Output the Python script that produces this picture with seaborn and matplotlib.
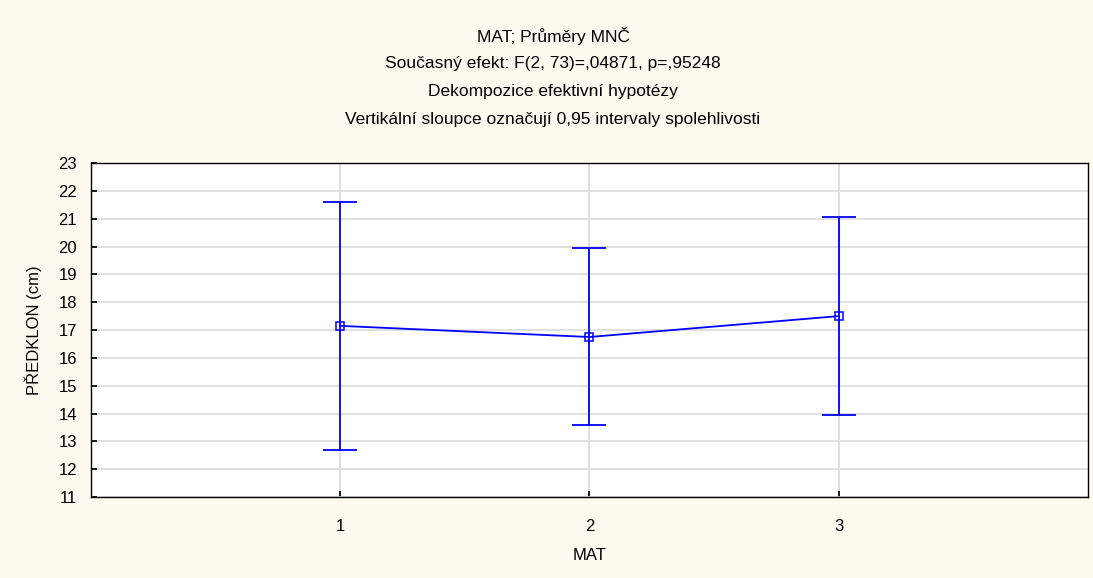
import pandas as pd
import seaborn as sns
import matplotlib.pyplot as plt

mat = [1, 2, 3]
mean_vals = [17.15, 16.75, 17.5]
ci_low = [12.7, 13.6, 13.95]
ci_high = [21.6, 19.93, 21.07]

df = pd.DataFrame({"MAT": mat, "mean": mean_vals, "low": ci_low, "high": ci_high})

sns.set_theme(style="whitegrid")
plt.rcParams["font.family"] = ["Liberation Sans", "DejaVu Sans"]
plt.rcParams["text.color"] = "black"
plt.rcParams["axes.labelcolor"] = "black"

fig = plt.figure(figsize=(10.93, 5.78), dpi=100, facecolor="#FFFAF0")
ax = fig.add_axes([0.0833, 0.140, 0.912, 0.578])
ax.set_facecolor("white")

blue = "#0000FF"
ax.errorbar(df["MAT"], df["mean"],
            yerr=[df["mean"] - df["low"], df["high"] - df["mean"]],
            fmt="none", ecolor=blue, elinewidth=1.3, capsize=12, capthick=1.3, zorder=3)
sns.lineplot(data=df, x="MAT", y="mean", ax=ax, color=blue, linewidth=1.3,
             marker="s", markersize=6, markerfacecolor="none", markeredgecolor=blue,
             markeredgewidth=1.1, zorder=4)

ax.set_xlim(0, 4)
ax.set_ylim(11, 23)
ax.set_xticks(mat)
ax.set_yticks(range(11, 24))
ax.grid(True, color="#DDDDDD", linewidth=1.3)
for s in ax.spines.values():
    s.set_color("black")
    s.set_linewidth(1.0)
ax.tick_params(axis="y", direction="in", length=4, left=True, labelsize=12, colors="black", pad=10)
ax.tick_params(axis="x", direction="in", length=4, bottom=True, labelsize=12, colors="black", pad=16)

ax.set_xlabel("MAT", fontsize=12, labelpad=10)
ax.set_ylabel("PŘEDKLON (cm)", fontsize=12, labelpad=12)

titles = ["MAT; Průměry MNČ",
          "Současný efekt: F(2, 73)=,04871, p=,95248",
          "Dekompozice efektivní hypotézy",
          "Vertikální sloupce označují 0,95 intervaly spolehlivosti"]
for i, t in enumerate(titles):
    fig.text(0.506, 1 - (36 + i * 27.7) / 578, t, ha="center", va="center", fontsize=12.5)

fig.savefig("out.png", dpi=100, facecolor=fig.get_facecolor())
